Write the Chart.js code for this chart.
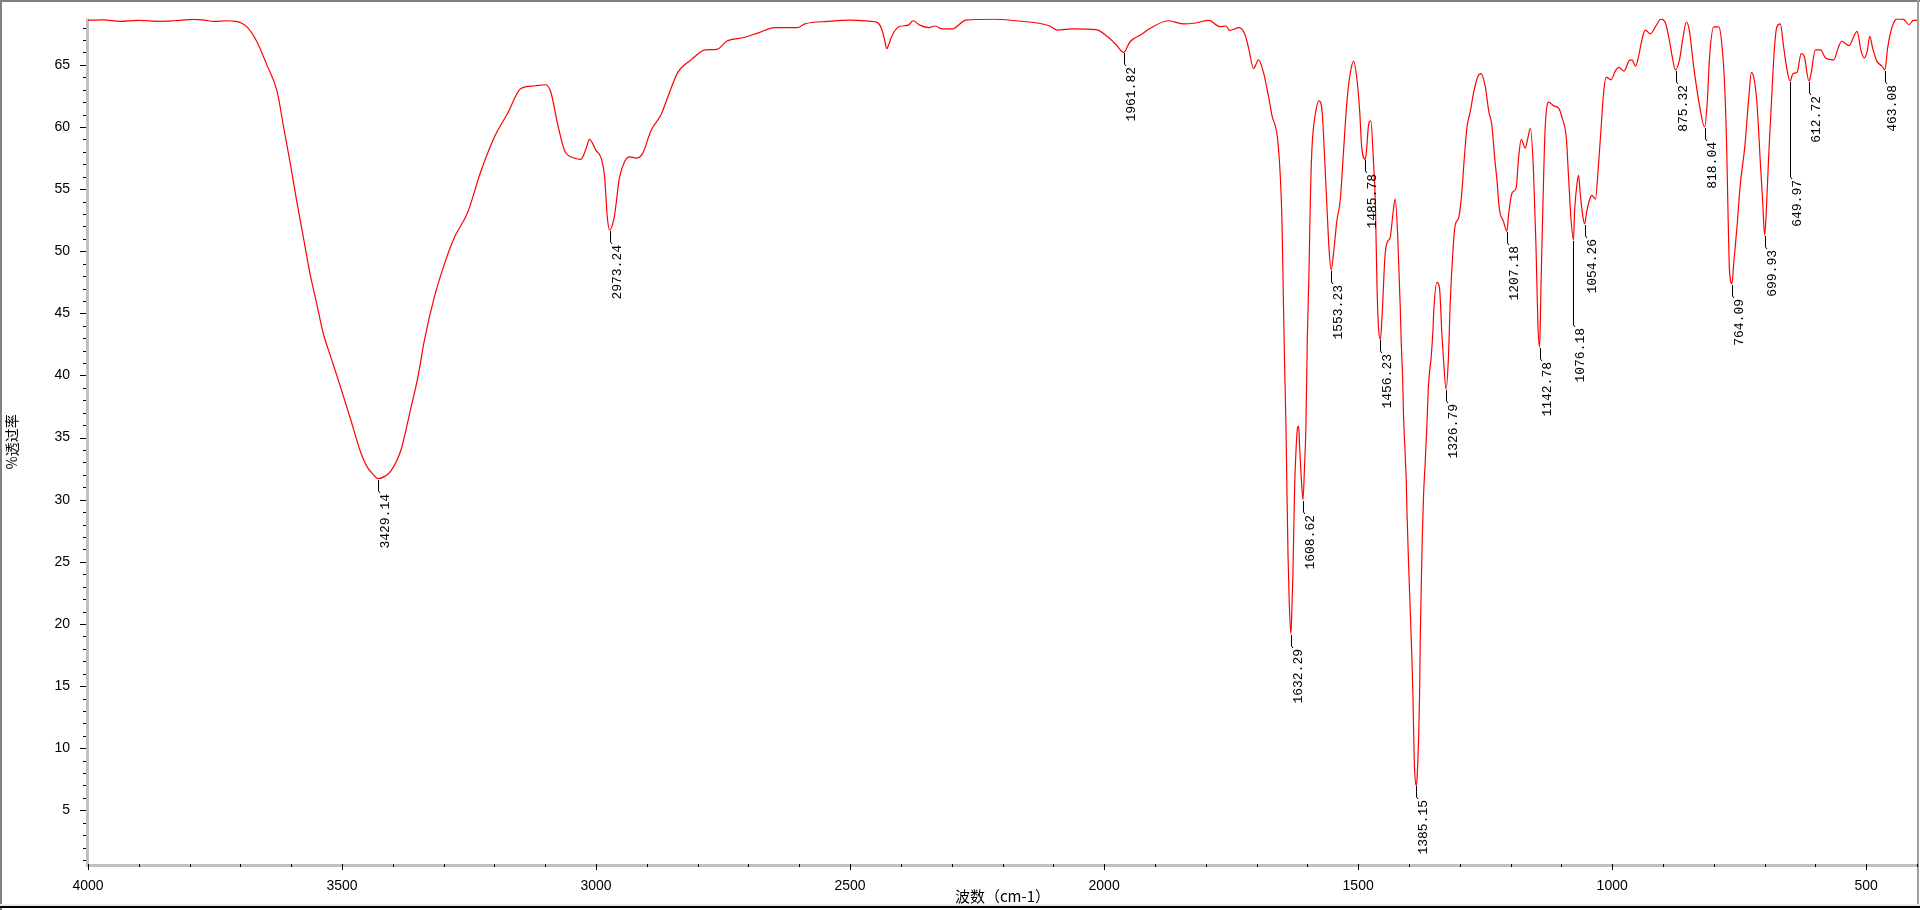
<!DOCTYPE html>
<html lang="zh">
<head>
<meta charset="utf-8">
<title>红外光谱</title>
<script src="https://cdn.jsdelivr.net/npm/chart.js@4.4.1/dist/chart.umd.min.js"></script>
<style>
    html, body { margin: 0; padding: 0; background: #fff; overflow: hidden; }
    #irChart { display: block; }
</style>
</head>
<body>
<canvas id="irChart" width="1920" height="910"></canvas>
<script>
// ==========================================
// Spectrum data
// ==========================================

const wavenumbers = [
    4000, 3970, 3937, 3900, 3858, 3830, 3792, 3770, 3753, 3727, 3710, 3700, 3687, 3668, 3648, 3628,
    3615, 3602, 3589, 3576, 3563, 3550, 3537, 3523, 3504, 3484, 3464, 3450, 3440, 3429.14, 3415, 3404,
    3384, 3365, 3351, 3338, 3319, 3299, 3279, 3253, 3227, 3200, 3174, 3148, 3122, 3099, 3089, 3076,
    3062, 3043, 3030, 3020, 3013, 3000, 2990, 2983, 2978, 2973.24, 2964, 2954, 2944, 2934, 2921, 2908,
    2892, 2872, 2858, 2839, 2813, 2785, 2762, 2743, 2709, 2679, 2649, 2604, 2589, 2544, 2498, 2460,
    2446, 2438, 2432, 2428, 2424, 2419, 2404, 2385, 2376, 2363, 2344, 2333, 2318, 2299, 2272, 2220,
    2175, 2107, 2092, 2062, 2016, 1994, 1975, 1961.82, 1949, 1926, 1911, 1873, 1843, 1820, 1794, 1772,
    1760, 1753, 1734, 1723, 1715, 1706, 1696, 1687, 1677, 1670, 1657, 1650, 1647, 1644.8, 1642, 1640,
    1638, 1635.6, 1632.29, 1630.4, 1628.4, 1625, 1622.5, 1619, 1617, 1615.3, 1612, 1608.62, 1605.5, 1602.8, 1600, 1597,
    1594, 1591, 1584, 1577, 1571, 1567, 1561, 1557, 1553.23, 1548, 1542, 1535, 1529, 1522, 1516, 1509,
    1502, 1497, 1493, 1485.78, 1483, 1479, 1475, 1470, 1466, 1463, 1460, 1456.23, 1453, 1447, 1442, 1437,
    1431, 1427, 1422, 1417, 1415, 1412.5, 1410.6, 1407.3, 1405.3, 1404, 1400.7, 1397, 1394, 1392, 1389.6, 1385.15,
    1383.5, 1381, 1379, 1377.8, 1375.8, 1373.8, 1371.2, 1368, 1364.6, 1361.4, 1356, 1352.8, 1351, 1345, 1340, 1335,
    1332, 1326.79, 1322, 1319, 1313, 1309, 1302, 1296, 1291, 1286, 1279, 1273, 1265, 1258, 1250, 1243,
    1237, 1231, 1227, 1222, 1214, 1207.18, 1204, 1197, 1189, 1184, 1179, 1171, 1166, 1161, 1155, 1150,
    1146, 1142.78, 1140, 1136, 1132, 1125, 1115, 1105, 1099, 1090, 1086, 1081, 1076.18, 1074, 1069, 1066,
    1063, 1058, 1054.26, 1050, 1044, 1040, 1033, 1027, 1022, 1017, 1012, 1002, 994, 987, 977, 966,
    961, 954, 948, 941, 935, 925, 913, 904, 895, 887, 882, 875.32, 867, 861, 854, 848,
    840, 828, 818.04, 813, 808, 800, 790, 784, 779, 775, 772, 769, 764.09, 761, 754, 748,
    739, 731, 726, 720, 715, 708, 704, 699.93, 697, 692, 686, 681, 676, 669, 663, 657,
    649.97, 644, 636, 628, 622, 612.72, 609, 600, 590, 580, 564, 554, 548, 534, 518, 510,
    504, 498, 493, 487, 479, 469, 463.08, 458, 449, 439, 426, 416, 407, 400
];

const transmittance = [
    68.6, 68.62, 68.5, 68.58, 68.5, 68.55, 68.66, 68.6, 68.5, 68.55, 68.5, 68.4, 68.06, 66.9, 65.0, 62.9,
    60.0, 57.1, 54.0, 51.1, 48.2, 45.8, 43.4, 41.6, 39.2, 36.6, 33.9, 32.6, 32.1, 31.7, 31.9, 32.3,
    34.0, 37.3, 39.8, 42.8, 46.2, 48.9, 51.1, 53.1, 56.4, 59.2, 61.1, 63.1, 63.3, 63.4, 62.8, 60.3,
    58.1, 57.5, 57.4, 58.2, 59.0, 58.1, 57.5, 55.9, 52.8, 51.7, 52.8, 55.9, 57.2, 57.6, 57.5, 57.9,
    59.7, 61.0, 62.5, 64.4, 65.4, 66.2, 66.25, 66.9, 67.2, 67.6, 68.0, 68.0, 68.3, 68.5, 68.6, 68.5,
    68.4, 67.9, 67.0, 66.3, 66.6, 67.2, 68.07, 68.2, 68.55, 68.2, 68.0, 68.13, 67.9, 67.9, 68.6, 68.67,
    68.55, 68.13, 67.8, 67.9, 67.83, 67.3, 66.56, 66.0, 66.86, 67.46, 67.9, 68.55, 68.3, 68.37, 68.58, 68.07,
    68.13, 67.77, 68.0, 67.46, 66.25, 64.7, 65.4, 64.5, 62.6, 61.0, 58.4, 52.6, 45.8, 41.0, 35.8, 30.4,
    25.5, 21.7, 19.2, 21.2, 24.0, 31.0, 33.8, 35.85, 35.9, 34.4, 31.8, 30.0, 32.7, 35.85, 43.0, 47.9,
    54.2, 58.2, 61.1, 62.1, 61.3, 58.4, 53.2, 50.0, 48.5, 50.0, 52.4, 54.2, 57.9, 62.1, 64.2, 65.3,
    63.7, 61.3, 58.4, 57.4, 58.4, 60.3, 60.5, 57.4, 53.7, 47.4, 43.9, 42.9, 44.7, 49.7, 50.8, 51.1,
    53.2, 54.2, 51.1, 45.3, 42.5, 39.9, 36.7, 33.5, 31.5, 29.2, 24.8, 20.6, 17.0, 14.0, 9.1, 7.0,
    8.0, 10.8, 14.4, 18.6, 22.9, 26.9, 30.4, 33.0, 36.1, 39.3, 41.6, 43.6, 45.3, 47.5, 47.1, 43.2,
    41.3, 38.9, 41.7, 45.6, 50.3, 52.1, 52.7, 54.7, 57.5, 59.9, 61.3, 62.7, 64.0, 64.3, 63.3, 61.3,
    60.2, 57.4, 55.8, 53.4, 52.4, 51.6, 52.9, 54.7, 55.1, 57.6, 59.0, 58.3, 59.1, 59.9, 56.6, 50.5,
    43.9, 42.3, 47.4, 54.2, 59.8, 62.0, 61.7, 61.5, 60.8, 59.0, 56.1, 52.6, 50.9, 53.2, 55.5, 56.1,
    54.7, 52.9, 52.2, 53.2, 54.2, 54.5, 54.2, 56.9, 59.8, 62.7, 64.0, 63.8, 64.5, 64.8, 64.5, 65.35,
    65.4, 64.9, 65.7, 67.1, 67.8, 67.5, 68.2, 68.68, 68.35, 66.9, 65.7, 64.6, 65.5, 67.1, 68.45, 67.75,
    65.0, 61.7, 60.0, 61.9, 65.8, 68.05, 68.05, 66.6, 63.7, 59.0, 53.2, 48.4, 47.4, 48.9, 52.1, 55.3,
    58.4, 62.4, 64.4, 63.7, 61.9, 56.9, 54.2, 51.3, 52.9, 57.6, 62.4, 66.1, 68.05, 68.3, 66.6, 64.9,
    63.7, 64.3, 64.4, 65.9, 65.7, 63.7, 64.2, 66.2, 66.2, 65.55, 65.4, 66.5, 66.9, 66.55, 67.7, 66.1,
    65.55, 66.1, 67.3, 66.3, 65.3, 64.9, 64.6, 66.3, 68.05, 68.7, 68.66, 68.24, 68.58, 68.58
];

// Peaks marked by the instrument software
const peakWavenumbers = [
    3429.14, 2973.24, 1961.82, 1632.29, 1608.62, 1553.23, 1485.78, 1456.23, 1385.15, 1326.79,
    1207.18, 1142.78, 1076.18, 1054.26, 875.32, 818.04, 764.09, 699.93, 649.97, 612.72, 463.08
];

// Axis ticks
const xTickValues = [4000, 3500, 3000, 2500, 2000, 1500, 1000, 500];
const yTickValues = [5, 10, 15, 20, 25, 30, 35, 40, 45, 50, 55, 60, 65];

// ==========================================
// Helpers
// ==========================================

// Linear lookup of the curve at a wavenumber (arrays run high -> low)
function valueAt(w) {
    for (let i = 0; i < wavenumbers.length - 1; i++) {
        const a = wavenumbers[i], b = wavenumbers[i + 1];
        if (w <= a && w >= b) {
            const t = (a - w) / (a - b);
            return transmittance[i] + t * (transmittance[i + 1] - transmittance[i]);
        }
    }
    return transmittance[transmittance.length - 1];
}

// ==========================================
// Plugins
// ==========================================

// White page + window frame like the instrument export
const framePlugin = {
    id: 'frame',
    beforeDraw(chart) {
        const { ctx, width, height } = chart;
        ctx.save();
        ctx.fillStyle = '#ffffff';
        ctx.fillRect(0, 0, width, height);
        ctx.fillStyle = '#7f7f7f';
        ctx.fillRect(0, 0, width, 2);
        ctx.fillRect(0, 0, 2, height);
        ctx.fillStyle = '#a0a0a0';
        ctx.fillRect(width - 3, 0, 2, height - 4);
        ctx.fillStyle = '#ececec';
        ctx.fillRect(0, height - 6, width, 2);
        ctx.fillStyle = '#000000';
        ctx.fillRect(0, height - 4, width, 2);
        ctx.restore();
    }
};

// Grey axis bars with major/minor tick marks
const axisPlugin = {
    id: 'irAxes',
    beforeDatasetsDraw(chart, args, opts) {
        const { ctx, chartArea, scales: { x, y } } = chart;
        const left = chartArea.left, bottom = chartArea.bottom;
        ctx.save();
        ctx.fillStyle = '#c0c0c0';
        ctx.fillRect(left - 2, chartArea.top, 3, bottom - chartArea.top + 2);
        ctx.fillRect(left - 2, bottom - 1, chartArea.right - left + 2, 3);

        ctx.strokeStyle = '#000';
        ctx.lineWidth = 1;
        ctx.beginPath();
        for (let v = Math.ceil(y.min); v <= y.max; v += opts.yMinorStep) {
            const py = Math.round(y.getPixelForValue(v)) + 0.5;
            const len = yTickValues.includes(v) ? 6 : 3;
            ctx.moveTo(left - 2 - len, py);
            ctx.lineTo(left - 2, py);
        }
        for (let w = x.min; w <= x.max; w += opts.xMinorStep) {
            const px = Math.round(x.getPixelForValue(w)) + 0.5;
            const len = xTickValues.includes(w) ? 6 : 3;
            ctx.moveTo(px, bottom - 1);
            ctx.lineTo(px, bottom - 1 + len);
        }
        ctx.stroke();
        ctx.restore();
    }
};

// Peak markers: short drop line + rotated wavenumber label
const peakPlugin = {
    id: 'peakLabels',
    afterDatasetsDraw(chart, args, opts) {
        const { ctx, scales: { x, y } } = chart;
        ctx.save();
        ctx.font = opts.font;
        ctx.fillStyle = '#000';
        ctx.strokeStyle = '#000';
        ctx.lineWidth = 1;
        peakWavenumbers.forEach(w => {
            const label = w.toFixed(2);
            const px = Math.round(x.getPixelForValue(w)) + 0.5;
            const py = Math.round(y.getPixelForValue(valueAt(w)));
            const lead = opts.longLeads[label] || opts.lead;

            ctx.beginPath();
            ctx.moveTo(px, py + 1);
            ctx.lineTo(px, py + lead);
            ctx.lineTo(px + 1.5, py + lead + 2);
            ctx.stroke();

            ctx.save();
            ctx.translate(px + 1, py + lead + 3);
            ctx.rotate(-Math.PI / 2);
            ctx.textAlign = 'right';
            ctx.textBaseline = 'top';
            ctx.fillText(label, 0, 0);
            ctx.restore();
        });
        ctx.restore();
    }
};

// ==========================================
// Chart
// ==========================================

const tickFont = { family: "'Liberation Sans', Arial, sans-serif", size: 14 };

new Chart(document.getElementById('irChart'), {
    type: 'line',
    data: {
        datasets: [{
            data: wavenumbers.map((w, i) => ({ x: w, y: transmittance[i] })),
            borderColor: '#ff0000',
            borderWidth: 1.2,
            pointRadius: 0,
            cubicInterpolationMode: 'monotone',
            fill: false
        }]
    },
    options: {
        responsive: false,
        devicePixelRatio: 1,
        animation: false,
        layout: { padding: { top: 3, right: 3, left: 0, bottom: 0 } },
        plugins: {
            legend: { display: false },
            tooltip: { enabled: false },
            irAxes: { xMinorStep: 100, yMinorStep: 1 },
            peakLabels: {
                font: "13px 'Liberation Mono', 'DejaVu Sans Mono', monospace",
                lead: 12,
                longLeads: { '649.97': 96, '1076.18': 85 }
            }
        },
        scales: {
            x: {
                type: 'linear',
                reverse: true,
                min: 400,
                max: 4000,
                afterBuildTicks: s => { s.ticks = xTickValues.map(v => ({ value: v })); },
                afterFit: s => { s.height = 45; },
                grid: { display: false },
                border: { display: false },
                ticks: {
                    color: '#000', font: tickFont, padding: 5, maxRotation: 0, autoSkip: false,
                    callback: v => String(v)
                },
                title: {
                    display: true,
                    text: '波数（cm-1）',
                    color: '#000',
                    font: { family: "'Noto Sans CJK SC', sans-serif", size: 15 },
                    padding: { top: 0, bottom: 5 }
                }
            },
            y: {
                type: 'linear',
                min: 0.6,
                max: 68.74,
                afterBuildTicks: s => { s.ticks = yTickValues.map(v => ({ value: v })); },
                afterFit: s => { s.width = 88; },
                grid: { display: false },
                border: { display: false },
                ticks: { color: '#000', font: tickFont, padding: 10, callback: v => String(v) },
                title: {
                    display: true,
                    text: '%透过率',
                    color: '#000',
                    font: { family: "'Noto Sans CJK SC', sans-serif", size: 14 },
                    padding: { top: 3, bottom: 0 }
                }
            }
        }
    },
    plugins: [framePlugin, axisPlugin, peakPlugin]
});
</script>
</body>
</html>
